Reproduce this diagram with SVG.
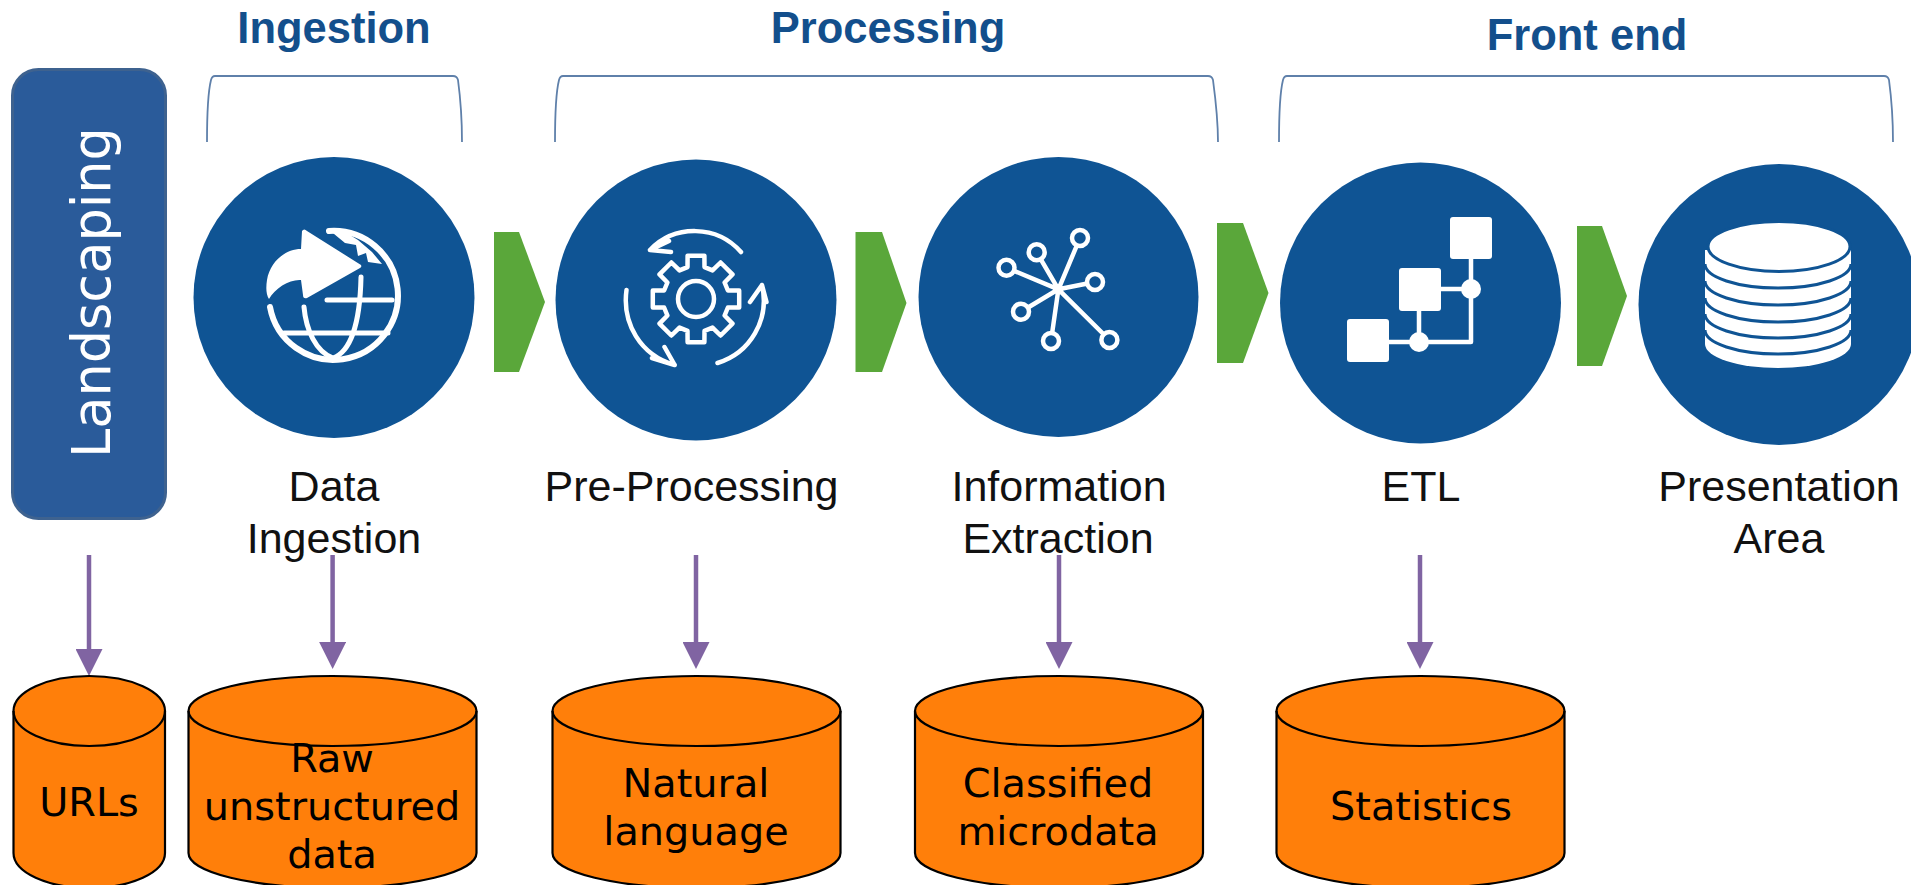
<svg xmlns="http://www.w3.org/2000/svg" width="1911" height="885" viewBox="0 0 1911 885">
<style>
.head{font:bold 43.5px "Liberation Sans",Arial,sans-serif;fill:#134f8c;text-anchor:middle}
.lab{font:43px "Liberation Sans",Arial,sans-serif;fill:#111;text-anchor:middle}
.db{font:39.8px "DejaVu Sans",Verdana,sans-serif;fill:#000;text-anchor:middle}
.disc{fill:#0f5494}
.chev{fill:#5aa73a}
.brk{fill:none;stroke:#5f80aa;stroke-width:1.8}
.cyl{fill:#ff7f0a;stroke:#000;stroke-width:2.2}
.rim{fill:none;stroke:#000;stroke-width:2.2}
.ic{fill:none;stroke:#fff;stroke-width:4.5;stroke-linecap:round;stroke-linejoin:round}
.wf{fill:#fff}
.conn{stroke:#8064a2;stroke-width:4.5;fill:none;marker-end:url(#ah)}
.sep{fill:none;stroke:#0f5494;stroke-width:3}
</style>
<defs>
<marker id="ah" markerUnits="userSpaceOnUse" markerWidth="27" markerHeight="27" refX="0" refY="13.5" orient="auto" viewBox="0 0 27 27"><path d="M0 0L27 13.5L0 27Z" fill="#8064a2"/></marker>
</defs>
<rect width="1911" height="885" fill="#fff"/>

<g id="landscaping">
<rect x="12.5" y="69.5" width="153" height="449" rx="26" fill="#2a5b9a" stroke="#3e628f" stroke-width="3"/>
<text transform="translate(110 458) rotate(-90)" font-family="'DejaVu Sans',Verdana,sans-serif" font-size="52.5" fill="#fff">Landscaping</text>
</g>

<g id="group-ingestion">
<text class="head" x="334" y="43">Ingestion</text>
<path class="brk" d="M207 142C207 112 209 88 211 80Q212 76 215 76L453 76Q457 76 458 80C460 95 462 120 462 142"/>
</g>
<g id="group-processing">
<text class="head" x="888" y="43">Processing</text>
<path class="brk" d="M555 142C555 112 557 88 559 80Q560 76 563 76L1208 76Q1212 76 1213 80C1215 95 1218 120 1218 142"/>
</g>
<g id="group-frontend">
<text class="head" x="1587" y="50">Front end</text>
<path class="brk" d="M1279 142C1279 112 1281 88 1283 80Q1284 76 1287 76L1884 76Q1888 76 1889 80C1891 95 1893 120 1893 142"/>
</g>

<g id="node-data-ingestion">
<circle class="disc" cx="334" cy="297.5" r="140.5"/>
<path class="ic" style="stroke-width:6" d="M329 231A64.500 64.500 0 1 1 270 307"/>
<path class="ic" style="stroke-width:5" d="M327 300H392M284 333H388M304 307C306 330 316 352 333 358C350 352 360 325 361 277"/>
<path class="wf" d="M328 229L345 232L358 240L372 252L382 264L368 262L366 253L358 256L356 245L345 243Z"/>
<path class="wf" d="M302 231Q304 228 307 231L361 265Q362 267 360 268L307 298Q303 299 303 295L301 280C290 279 275 288 269 299Q265 293 267 280C270 262 285 249 301 249Z"/>
</g>
<g id="node-pre-processing">
<circle class="disc" cx="696" cy="300" r="140.500"/>
<g class="ic" transform="translate(696 299)"><path d="M-8.400 -43.200L8.400 -43.200L8.500 -31.900L16.500 -28.600L24.600 -36.500L36.500 -24.600L28.600 -16.500L31.900 -8.500L43.200 -8.400L43.200 8.400L31.900 8.500L28.600 16.500L36.500 24.600L24.600 36.500L16.500 28.600L8.500 31.900L8.400 43.200L-8.400 43.200L-8.500 31.900L-16.500 28.600L-24.600 36.500L-36.500 24.600L-28.600 16.500L-31.900 8.500L-43.200 8.400L-43.200 -8.400L-31.900 -8.500L-28.600 -16.500L-36.500 -24.600L-24.600 -36.500L-16.500 -28.600L-8.500 -31.900Z"/><circle r="18"/></g>
<path class="ic" d="M741 252C717 225 675 224 650 250L669 241M650 250L671 252M717.500 363C750 353 770 320 762 285L750 302M762 285L766.500 302M626.500 290C622 323 640 355 674.700 365L664.500 347M674.700 365L652 358"/>
</g>
<g id="node-information-extraction">
<circle class="disc" cx="1058.500" cy="297" r="140"/>
<g class="ic"><path d="M1058.400 289.300L1080 238M1058.400 289.300L1036.700 252.300M1058.400 289.300L1006.500 267.700M1058.400 289.300L1095 282M1058.400 289.300L1021 311.700M1058.400 289.300L1051 341M1058.400 289.300L1109.400 340"/></g>
<g fill="#0f5494" stroke="#fff" stroke-width="4.5"><circle cx="1080" cy="238" r="8"/><circle cx="1036.700" cy="252.300" r="8"/><circle cx="1006.500" cy="267.700" r="8"/><circle cx="1095" cy="282" r="8"/><circle cx="1021" cy="311.700" r="8"/><circle cx="1051" cy="341" r="8"/><circle cx="1109.400" cy="340" r="8"/></g>
<circle class="wf" cx="1058.400" cy="289.300" r="5"/>
</g>
<g id="node-etl">
<circle class="disc" cx="1420.500" cy="303" r="140.500"/>
<g class="ic"><path d="M1389 342H1471V259M1440 289H1471M1419 311V342"/></g>
<g class="wf"><rect x="1450" y="217" width="42" height="42" rx="3"/><rect x="1399" y="268" width="42" height="43" rx="3"/><rect x="1347" y="319" width="42" height="43" rx="3"/><circle cx="1471" cy="289" r="10"/><circle cx="1419" cy="342" r="10"/></g>
</g>
<g id="node-presentation-area">
<circle class="disc" cx="1779" cy="304.500" r="140.500"/>
<path class="wf" d="M1705 250H1851V344A73 24 0 0 1 1705 344Z"/>
<g class="sep"><path d="M1705 264A73 24 0 0 0 1851 264M1705 281A73 24 0 0 0 1851 281M1705 298A73 24 0 0 0 1851 298M1705 314A73 24 0 0 0 1851 314M1705 330A73 24 0 0 0 1851 330"/></g>
<ellipse cx="1779" cy="246.500" rx="71" ry="25" fill="#fff" stroke="#0f5494" stroke-width="3"/>
</g>

<g id="flow-arrows">
<path class="chev" d="M494 232H519L545 302L519 372H494Z"/>
<path class="chev" d="M855.500 232H882L906.500 303L882 372H855.500Z"/>
<path class="chev" d="M1217 223H1243L1268.500 293L1243 363H1217Z"/>
<path class="chev" d="M1577 226H1602L1627 296L1602 366H1577Z"/>
</g>

<g id="labels">
<text class="lab" x="334" y="501">Data</text><text class="lab" x="334" y="553">Ingestion</text>
<text class="lab" x="691.500" y="501">Pre-Processing</text>
<text class="lab" x="1059" y="501">Information</text><text class="lab" x="1058" y="553">Extraction</text>
<text class="lab" x="1421" y="501">ETL</text>
<text class="lab" x="1779" y="501">Presentation</text><text class="lab" x="1779" y="553">Area</text>
</g>

<g id="connectors">
<path class="conn" d="M89 555V649"/>
<path class="conn" d="M332.600 555V642"/>
<path class="conn" d="M696 555V642"/>
<path class="conn" d="M1059 555V642"/>
<path class="conn" d="M1420 555V642"/>
</g>

<g id="store-urls">
<path class="cyl" d="M13.500 711A75.750 35 0 0 1 165 711V853A75.750 35 0 0 1 13.500 853Z"/>
<path class="rim" d="M13.500 711A75.750 35 0 0 0 165 711"/>
<text class="db" x="89" y="816">URLs</text>
</g>
<g id="store-raw">
<path class="cyl" d="M188.500 711A144 35 0 0 1 476.500 711V853A144 35 0 0 1 188.500 853Z"/>
<path class="rim" d="M188.500 711A144 35 0 0 0 476.500 711"/>
<text class="db" x="332" y="772">Raw</text><text class="db" x="332" y="820">unstructured</text><text class="db" x="332" y="868">data</text>
</g>
<g id="store-natural">
<path class="cyl" d="M552.500 711A144 35 0 0 1 840.500 711V853A144 35 0 0 1 552.500 853Z"/>
<path class="rim" d="M552.500 711A144 35 0 0 0 840.500 711"/>
<text class="db" x="696" y="797">Natural</text><text class="db" x="696" y="845">language</text>
</g>
<g id="store-classified">
<path class="cyl" d="M915 711A144 35 0 0 1 1203 711V853A144 35 0 0 1 915 853Z"/>
<path class="rim" d="M915 711A144 35 0 0 0 1203 711"/>
<text class="db" x="1058" y="797">Classified</text><text class="db" x="1058" y="845">microdata</text>
</g>
<g id="store-statistics">
<path class="cyl" d="M1276.500 711A144 35 0 0 1 1564.500 711V853A144 35 0 0 1 1276.500 853Z"/>
<path class="rim" d="M1276.500 711A144 35 0 0 0 1564.500 711"/>
<text class="db" x="1421" y="820">Statistics</text>
</g>
</svg>
